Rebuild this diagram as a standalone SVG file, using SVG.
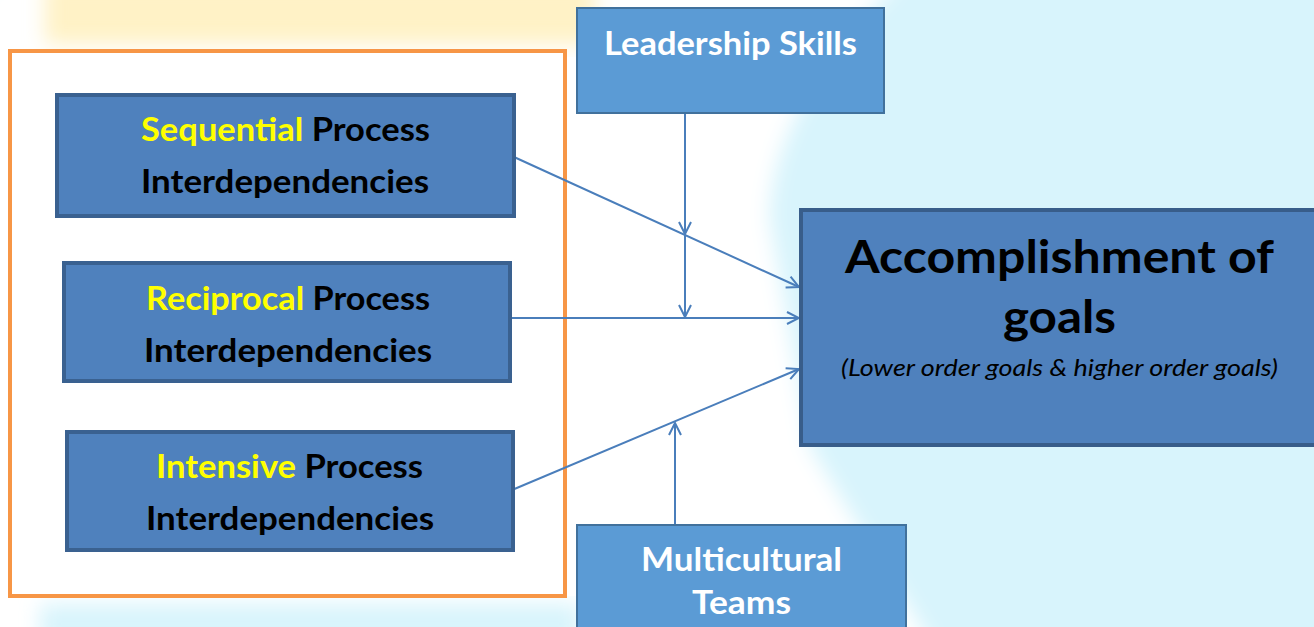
<svg xmlns="http://www.w3.org/2000/svg" width="1314" height="627" viewBox="0 0 1314 627">
<defs>
<filter id="soft" x="-20%" y="-20%" width="140%" height="140%"><feGaussianBlur stdDeviation="10"/></filter>
<marker id="arr" viewBox="0 0 14 14" refX="13" refY="7" markerWidth="14" markerHeight="14" markerUnits="userSpaceOnUse" orient="auto">
<path d="M1,1 L13,7 L1,13" fill="none" stroke="#4A7EBB" stroke-width="2"/>
</marker>
</defs>
<style>
.t{font-family:Lato,"Open Sans","Liberation Sans",sans-serif;font-weight:bold;}
.blk{fill:#000}
.yel{fill:#FFFF00}
.wht{fill:#FFFFFF}
.proc{fill:#4F81BD;stroke:#3A6190;stroke-width:4}
.side{fill:#5B9BD5;stroke:#41719C;stroke-width:2}
.conn{stroke:#4A7EBB;stroke-width:2;fill:none}
</style>
<g id="background">
<rect x="0" y="0" width="1314" height="627" fill="#D8F4FC"/>
<path d="M-20,-20 L900,-20 C820,60 770,140 770,220 L810,447 L935,650 L-20,650 Z" fill="#FFFFFF" filter="url(#soft)"/>
<rect x="45" y="-20" width="550" height="64" fill="#FFF2C6" filter="url(#soft)"/>
<rect x="40" y="604" width="540" height="40" fill="#D8F4FC" filter="url(#soft)"/>
</g>
<g id="group-box">
<rect x="10" y="51" width="555" height="545" fill="#FFFFFF" stroke="#F79646" stroke-width="4"/>
</g>
<g id="connectors">
<line class="conn" x1="514" y1="157" x2="799" y2="287" marker-end="url(#arr)"/>
<line class="conn" x1="510" y1="318" x2="799" y2="318" marker-end="url(#arr)"/>
<line class="conn" x1="512" y1="490" x2="799" y2="369" marker-end="url(#arr)"/>
<line class="conn" x1="685" y1="113" x2="685" y2="234" marker-end="url(#arr)"/>
<line class="conn" x1="685" y1="234" x2="685" y2="317" marker-end="url(#arr)"/>
<line class="conn" x1="675" y1="526" x2="675" y2="423" marker-end="url(#arr)"/>
</g>
<g id="sequential">
<rect class="proc" x="57" y="95" width="457" height="121"/>
<text class="t" x="141" y="141" font-size="32" textLength="289" lengthAdjust="spacingAndGlyphs"><tspan class="yel">Sequential</tspan><tspan class="blk"> Process</tspan></text>
<text class="t blk" x="141" y="193" font-size="32" textLength="288" lengthAdjust="spacingAndGlyphs">Interdependencies</text>
</g>
<g id="reciprocal">
<rect class="proc" x="64" y="263" width="446" height="118"/>
<text class="t" x="146" y="310" font-size="32" textLength="284" lengthAdjust="spacingAndGlyphs"><tspan class="yel">Reciprocal</tspan><tspan class="blk"> Process</tspan></text>
<text class="t blk" x="144" y="362" font-size="32" textLength="288" lengthAdjust="spacingAndGlyphs">Interdependencies</text>
</g>
<g id="intensive">
<rect class="proc" x="67" y="432" width="446" height="118"/>
<text class="t" x="156" y="478" font-size="32" textLength="267" lengthAdjust="spacingAndGlyphs"><tspan class="yel">Intensive</tspan><tspan class="blk"> Process</tspan></text>
<text class="t blk" x="146" y="530" font-size="32" textLength="288" lengthAdjust="spacingAndGlyphs">Interdependencies</text>
</g>
<g id="leadership">
<rect class="side" x="577" y="8" width="307" height="105"/>
<text class="t wht" x="604" y="55" font-size="33" textLength="253" lengthAdjust="spacingAndGlyphs">Leadership Skills</text>
</g>
<g id="multicultural">
<rect class="side" x="577" y="525" width="329" height="110"/>
<text class="t wht" x="641" y="571" font-size="32" textLength="201" lengthAdjust="spacingAndGlyphs">Multicultural</text>
<text class="t wht" x="692" y="614" font-size="32" textLength="99" lengthAdjust="spacingAndGlyphs">Teams</text>
</g>
<g id="accomplishment">
<rect x="801" y="210" width="520" height="235" fill="#4F81BD" stroke="#385D8A" stroke-width="4"/>
<text class="t blk" x="845" y="273" font-size="46" textLength="429" lengthAdjust="spacingAndGlyphs">Accomplishment of</text>
<text class="t blk" x="1003" y="333" font-size="46" textLength="113" lengthAdjust="spacingAndGlyphs">goals</text>
<text x="841" y="376" font-size="23" font-style="italic" font-family="Lato,'Open Sans','Liberation Sans',sans-serif" fill="#000" textLength="437" lengthAdjust="spacingAndGlyphs">(Lower order goals &amp; higher order goals)</text>
</g>
</svg>
